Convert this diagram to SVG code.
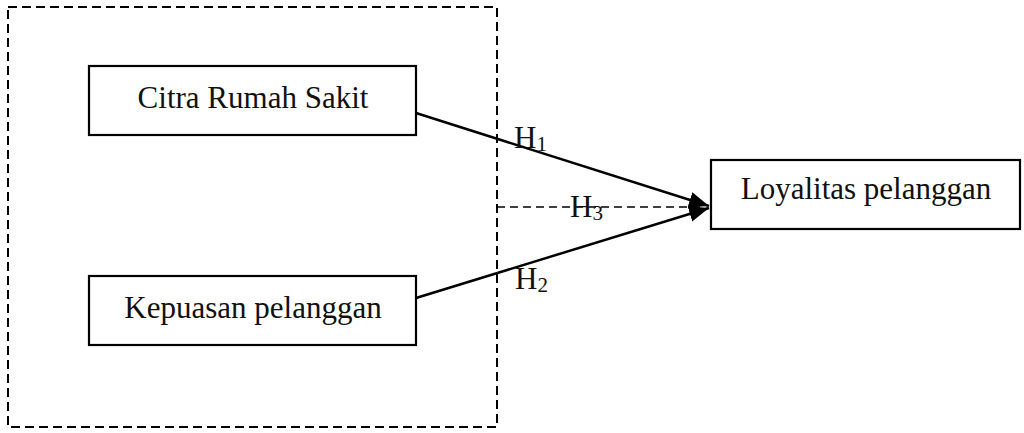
<svg xmlns="http://www.w3.org/2000/svg" width="1024" height="433" viewBox="0 0 1024 433">
<style>
.box{fill:#fff;stroke:#000;stroke-width:2.2}
.lbl{font-family:"Liberation Serif","Times New Roman",serif;font-size:31px;fill:#111;text-anchor:middle}
.h{font-family:"Liberation Serif","Times New Roman",serif;font-size:31px;fill:#111}
.sub{font-size:21px}
.line{stroke:#000;stroke-width:2.5;fill:none}
.dash{stroke:#000;stroke-width:1.6;fill:none;stroke-dasharray:8 5}
</style>
<defs>
<marker id="arr" markerWidth="22" markerHeight="18" refX="20" refY="9" orient="auto" markerUnits="userSpaceOnUse">
<path d="M0,1 L20,9 L0,17 Z" fill="#000"/>
</marker>
</defs>
<rect width="1024" height="433" fill="#fff"/>
<g id="frame">
<rect x="8" y="7" width="489" height="420" fill="none" stroke="#000" stroke-width="2" stroke-dasharray="9 5"/>
</g>
<g id="connectors">
<line class="line" x1="416" y1="113" x2="709" y2="206" marker-end="url(#arr)"/>
<line class="line" x1="416" y1="298" x2="709" y2="208" marker-end="url(#arr)"/>
<line class="dash" x1="497" y1="207" x2="700" y2="207"/>
<text class="h" x="514" y="148">H<tspan class="sub" dy="3">1</tspan></text>
<text class="h" x="570" y="217">H<tspan class="sub" dy="3">3</tspan></text>
<text class="h" x="515" y="289">H<tspan class="sub" dy="3">2</tspan></text>
</g>
<g id="citra">
<rect class="box" x="89" y="66" width="327" height="69"/>
<text class="lbl" x="253" y="108">Citra Rumah Sakit</text>
</g>
<g id="kepuasan">
<rect class="box" x="89" y="276" width="327" height="69"/>
<text class="lbl" x="253" y="318">Kepuasan pelanggan</text>
</g>
<g id="loyalitas">
<rect class="box" x="711" y="160" width="309" height="69"/>
<text class="lbl" x="866" y="199">Loyalitas pelanggan</text>
</g>
</svg>
